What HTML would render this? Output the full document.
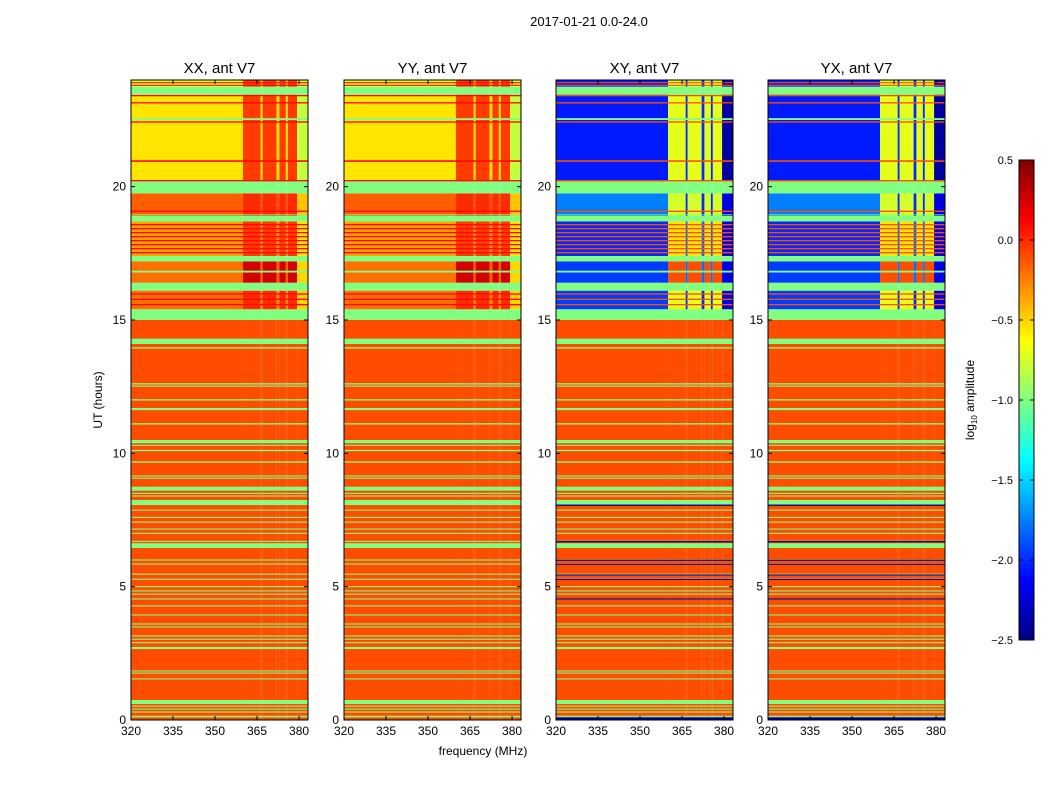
<!DOCTYPE html>
<html><head><meta charset="utf-8">
<style>
html,body{margin:0;padding:0;background:#fff;}
svg{display:block;font-family:"Liberation Sans","DejaVu Sans",sans-serif;}
</style></head>
<body>
<svg id="chart" width="1050" height="800" viewBox="0 0 1050 800" xmlns="http://www.w3.org/2000/svg">
<rect width="1050" height="800" fill="#fff"/>
<text x="589" y="26" font-size="13" text-anchor="middle">2017-01-21 0.0-24.0</text>
<text x="483" y="755" font-size="12" text-anchor="middle">frequency (MHz)</text>
<text transform="translate(102,400) rotate(-90)" font-size="12" text-anchor="middle">UT (hours)</text>
<g id="panels"></g>
<g id="cbar"></g>
<text transform="translate(974,400) rotate(-90)" font-size="12" text-anchor="middle">log<tspan font-size="8" dy="3">10</tspan><tspan dy="-3"> amplitude</tspan></text>
</svg>
<script>
// ---- data ----
const panelTitles = ["XX, ant V7","YY, ant V7","XY, ant V7","YX, ant V7"];
const panelKinds = ["par","par","cross","cross"];
const xTicks = [320,335,350,365,380];
const yTicks = [0,5,10,15,20];
const cbarTicks = [0.5,0.0,-0.5,-1.0,-1.5,-2.0,-2.5];
// column segments in MHz: [f0,f1,kind]
const colSegs = [[320,360,"low"],[360,366.3,"hi"],[366.3,367,"gap"],[367,372,"hi"],[372,373,"gap"],[373,375.3,"hi"],[375.3,376,"gap"],[376,379.3,"hi"],[379.3,383.2,"edge"]];
// background bands [h0,h1,low,hi,gap,edge] (log10 amplitude)
const parBands = [[0,15,-0.1,-0.1,-0.1,-0.1],[15.4,16.1,-0.2,0.0,-0.3,-0.5],[16.1,16.4,-1.0,-1.0,-1.0,-1.0],[16.4,17.2,-0.2,0.25,-0.15,-0.5],[17.2,17.4,-1.0,-1.0,-1.0,-1.0],[17.4,18.7,-0.35,-0.05,-0.3,-0.55],[18.7,18.9,-1.0,-1.0,-1.0,-1.0],[18.9,19.75,-0.15,0.0,-0.1,-0.45],[19.75,20.2,-1.0,-1.0,-1.0,-1.0],[20.2,23.45,-0.55,-0.05,-0.55,-0.8],[23.45,23.75,-1.0,-1.0,-1.0,-1.0],[23.75,24,-0.7,-0.05,-0.5,-0.7]];
const crossBands = [[0,15,-0.1,-0.1,-0.1,-0.1],[15.4,16.1,-1.95,-0.7,-2.0,-2.2],[16.1,16.4,-1.0,-1.0,-1.0,-1.0],[16.4,17.2,-1.95,-0.1,-1.8,-2.2],[17.2,17.4,-1.0,-1.0,-1.0,-1.0],[17.4,18.7,-2.0,-0.55,-1.8,-2.2],[18.7,18.9,-1.0,-1.0,-1.0,-1.0],[18.9,19.75,-1.75,-0.75,-2.0,-2.2],[19.75,20.2,-1.0,-1.0,-1.0,-1.0],[20.2,23.45,-2.05,-0.7,-2.0,-2.4],[23.45,23.75,-1.0,-1.0,-1.0,-1.0],[23.75,24,-2.05,-0.75,-2.0,-2.3]];
// green (~-1.0) horizontal lines [h0,h1]
const greenLines = [[15.0,15.4],[14.1,14.3],[13.93,13.98],[12.58,12.63],[12.5,12.54],[11.98,12.03],[11.62,11.7],[11.08,11.13],[10.38,10.5],[10.28,10.32],[10.08,10.13],[9.65,9.7],[9.13,9.17],[9.05,9.09],[8.6,8.75],[8.48,8.52],[8.38,8.42],[8.06,8.25],[7.85,7.89],[7.58,7.62],[7.4,7.44],[7.14,7.18],[6.98,7.02],[6.68,6.72],[6.45,6.63],[5.98,6.02],[5.83,5.87],[5.45,5.49],[5.26,5.3],[4.98,5.02],[4.82,4.86],[4.7,4.74],[4.52,4.56],[4.26,4.3],[3.92,3.96],[3.58,3.62],[3.47,3.51],[3.13,3.17],[3.01,3.05],[2.88,2.92],[2.66,2.74],[1.82,1.86],[1.74,1.78],[1.52,1.56],[0.6,0.75],[0.5,0.54],[0.39,0.43],[0.28,0.32],[0.1,0.16],[16.78,16.85],[22.5,22.57],[20.17,20.2],[18.93,18.96]];
// red/orange lines in upper region [h0,h1]
const redLines = [[20.2,20.25],[20.93,20.99],[22.4,22.45],[23.12,23.17],[23.39,23.44],[23.78,23.82],[23.88,23.92],[19.05,19.1],[18.55,18.6],[18.4,18.45],[18.25,18.3],[18.1,18.15],[17.95,18.0],[17.8,17.85],[17.65,17.7],[17.5,17.55],[15.95,16.0],[15.75,15.8],[15.55,15.6]];
// dark blue lines seen in cross-hand panels [h0,h1]
const blueLines = [[8.03,8.08],[6.66,6.71],[5.97,6.01],[5.82,5.86],[5.42,5.46],[5.26,5.29],[4.52,4.56],[0,0.1]];

// ---- layout / scales ----
const panelX = [131,344,556,768];
const pW = 177, pTop = 80, pBot = 720;
const fMin = 320, fMax = 383.2, hMin = 0, hMax = 24;
function xs(i,f){return panelX[i] + (f-fMin)/(fMax-fMin)*pW;}
function ys(h){return pBot - (h-hMin)/(hMax-hMin)*(pBot-pTop);}
function jet(v){
  const t = Math.max(0,Math.min(1,(v+2.5)/3));
  const c = x=>Math.round(255*Math.max(0,Math.min(1,x)));
  const r=c(1.5-Math.abs(4*t-3)), g=c(1.5-Math.abs(4*t-2)), b=c(1.5-Math.abs(4*t-1));
  return `rgb(${r},${g},${b})`;
}
const NS="http://www.w3.org/2000/svg";
function mk(tag,attrs,parent){const e=document.createElementNS(NS,tag);for(const k in attrs)e.setAttribute(k,attrs[k]);parent.appendChild(e);return e;}
const idx = {low:2,hi:3,gap:4,edge:5};
const panels = document.getElementById("panels");
for(let i=0;i<4;i++){
  const g = mk("g",{},panels);
  
  
  const bands = panelKinds[i]==="par" ? parBands : crossBands;
  for(const b of bands){
    for(const s of colSegs){
      const x0=xs(i,s[0]), x1=xs(i,s[1]);
      const r = mk("rect",{x:x0,y:ys(b[1]),width:x1-x0,height:ys(b[0])-ys(b[1]),fill:jet(b[idx[s[2]]])},g);
      
      
    }
  }
  const lineSets = [[greenLines,-1.0],[redLines,panelKinds[i]==="par"?0.1:-0.1]];
  if(panelKinds[i]==="cross") lineSets.push([blueLines,-2.4]);
  for(const [set,val] of lineSets){
    for(const l of set){
      const r = mk("rect",{x:panelX[i],y:ys(l[1]),width:pW,height:Math.max(1,ys(l[0])-ys(l[1])),fill:jet(val)},g);
      
      
    }
  }
  const fr = mk("rect",{x:panelX[i],y:pTop,width:pW,height:pBot-pTop,fill:"none",stroke:"#000","stroke-width":1},g);
  
  
  const tt = mk("text",{x:panelX[i]+pW/2,y:73,"font-size":15,"text-anchor":"middle"},g);
  tt.textContent = panelTitles[i];
  
  
  for(const f of xTicks){
    const x=xs(i,f);
    mk("line",{x1:x,x2:x,y1:pBot,y2:pBot-4,stroke:"#000"},g);
    mk("line",{x1:x,x2:x,y1:pTop,y2:pTop+4,stroke:"#000"},g);
    const t = mk("text",{x:x,y:pBot+15,"font-size":12,"text-anchor":"middle"},g);
    t.textContent=f;
    
    
  }
  for(const h of yTicks){
    const y=ys(h);
    mk("line",{x1:panelX[i],x2:panelX[i]+4,y1:y,y2:y,stroke:"#000"},g);
    mk("line",{x1:panelX[i]+pW,x2:panelX[i]+pW-4,y1:y,y2:y,stroke:"#000"},g);
    const t = mk("text",{x:panelX[i]-5,y:y+4,"font-size":12,"text-anchor":"end"},g);
    t.textContent=h;
    
    
  }
}
// colorbar
const cb = document.getElementById("cbar");
const cbX=1019, cbW=15, cbTop=160, cbBot=640, cbMin=-2.5, cbMax=0.5;
function cy(v){return cbBot-(v-cbMin)/(cbMax-cbMin)*(cbBot-cbTop);}
const steps=120;
for(let k=0;k<steps;k++){
  const v0=cbMin+(cbMax-cbMin)*k/steps, v1=cbMin+(cbMax-cbMin)*(k+1)/steps;
  mk("rect",{x:cbX,y:cy(v1)-0.3,width:cbW,height:cy(v0)-cy(v1)+0.6,fill:jet((v0+v1)/2)},cb);
}
mk("rect",{x:cbX,y:cbTop,width:cbW,height:cbBot-cbTop,fill:"none",stroke:"#000"},cb);
for(const v of cbarTicks){
  const y=cy(v);
  mk("line",{x1:cbX,x2:cbX+4,y1:y,y2:y,stroke:"#000"},cb);
  mk("line",{x1:cbX+cbW,x2:cbX+cbW-4,y1:y,y2:y,stroke:"#000"},cb);
  const t=mk("text",{x:1013,y:y+4,"font-size":11,"text-anchor":"end"},cb);
  t.textContent=(v<0?"\u2212":"")+Math.abs(v).toFixed(1);
  
  
}
</script>
</body></html>
